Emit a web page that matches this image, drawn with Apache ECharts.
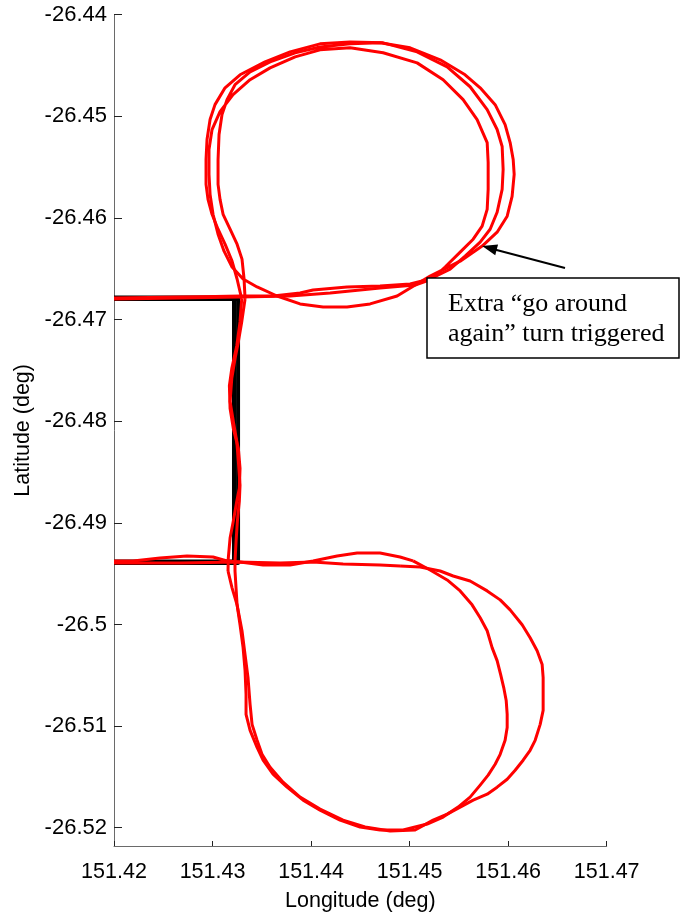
<!DOCTYPE html>
<html>
<head>
<meta charset="utf-8">
<title>Holding pattern track</title>
<script src="https://cdn.jsdelivr.net/npm/echarts@6/dist/echarts.min.js"></script>
<style>
  html, body { margin: 0; padding: 0; background: #ffffff; }
  #chart { width: 681px; height: 917px; }
</style>
</head>
<body>
<div id="chart"></div>
<script>
// Axis ticks (degrees)
const lonTicks = [151.42, 151.43, 151.44, 151.45, 151.46, 151.47];
const latTicks = [-26.52, -26.51, -26.50, -26.49, -26.48, -26.47, -26.46, -26.45, -26.44];
const lonRange = [151.42, 151.47];
const latRange = [-26.5218, -26.44];

// Planned route (black), [lon, lat]
const plannedA = [[151.42000, -26.46782], [151.43218, -26.46782], [151.43218, -26.49380], [151.42000, -26.49380]];
const plannedB = [[151.42000, -26.46797], [151.43259, -26.46797], [151.43259, -26.49395], [151.42000, -26.49395]];

// Flown track, first circuit (red), [lon, lat]
const track1Inbound = [
  [151.42000, -26.46787], [151.42365, -26.46782], [151.42670, -26.46778], [151.43025, -26.46773],
  [151.43279, -26.46768], [151.43614, -26.46768], [151.43888, -26.46738], [151.44020, -26.46709],
  [151.44365, -26.46679], [151.44700, -26.46670], [151.45005, -26.46650], [151.45208, -26.46601]
];
const track1UpperLoop = [
  [151.45208, -26.46601], [151.45411, -26.46503], [151.45563, -26.46375], [151.45716, -26.46238],
  [151.45817, -26.46111], [151.45888, -26.45944], [151.45939, -26.45719], [151.45949, -26.45523],
  [151.45939, -26.45297], [151.45888, -26.45130], [151.45787, -26.44934], [151.45614, -26.44709],
  [151.45381, -26.44513], [151.45076, -26.44366], [151.44731, -26.44277], [151.44396, -26.44268],
  [151.44091, -26.44287], [151.43787, -26.44366], [151.43533, -26.44464], [151.43279, -26.44591],
  [151.43127, -26.44719], [151.43025, -26.44885], [151.42975, -26.45032], [151.42944, -26.45228],
  [151.42934, -26.45425], [151.42934, -26.45670], [151.42954, -26.45817], [151.42995, -26.45964],
  [151.43056, -26.46111], [151.43127, -26.46258], [151.43198, -26.46425], [151.43249, -26.46601],
  [151.43296, -26.46797]
];
const track1Southbound = [
  [151.43296, -26.46797], [151.43279, -26.47023], [151.43246, -26.47258], [151.43195, -26.47483],
  [151.43171, -26.47650], [151.43178, -26.47876], [151.43211, -26.48072], [151.43262, -26.48268],
  [151.43279, -26.48464], [151.43272, -26.48660], [151.43246, -26.48787], [151.43211, -26.48983],
  [151.43178, -26.49150], [151.43160, -26.49346], [151.43157, -26.49474]
];
const track1LowerLoop = [
  [151.43157, -26.49474], [151.43198, -26.49640], [151.43249, -26.49807], [151.43279, -26.50003],
  [151.43310, -26.50228], [151.43330, -26.50454], [151.43340, -26.50689], [151.43340, -26.50885],
  [151.43381, -26.51042], [151.43452, -26.51209], [151.43513, -26.51336], [151.43614, -26.51474],
  [151.43756, -26.51601], [151.43919, -26.51729], [151.44091, -26.51827], [151.44294, -26.51925],
  [151.44497, -26.51993], [151.44700, -26.52023], [151.44934, -26.52023], [151.45178, -26.51964],
  [151.45340, -26.51895], [151.45492, -26.51797], [151.45614, -26.51699], [151.45716, -26.51581],
  [151.45797, -26.51483], [151.45868, -26.51376], [151.45919, -26.51278], [151.45969, -26.51140],
  [151.45990, -26.51013], [151.45990, -26.50885], [151.45980, -26.50748], [151.45955, -26.50621],
  [151.45924, -26.50493], [151.45888, -26.50356], [151.45837, -26.50228], [151.45787, -26.50062],
  [151.45716, -26.49934], [151.45634, -26.49807], [151.45513, -26.49670], [151.45381, -26.49562],
  [151.45208, -26.49464], [151.45035, -26.49375]
];
const track1Outbound = [
  [151.45035, -26.49375], [151.44903, -26.49336], [151.44700, -26.49297], [151.44467, -26.49297],
  [151.44264, -26.49326], [151.44020, -26.49375], [151.43787, -26.49415], [151.43513, -26.49415],
  [151.43279, -26.49385], [151.43147, -26.49375], [151.43005, -26.49336], [151.42741, -26.49326],
  [151.42467, -26.49346], [151.42193, -26.49375], [151.42000, -26.49375]
];

// Flown track, second circuit with the extra turn (red), [lon, lat]
const track2Inbound = [
  [151.42000, -26.46797], [151.42670, -26.46787], [151.43279, -26.46778], [151.43787, -26.46768],
  [151.44193, -26.46738], [151.44700, -26.46689], [151.45056, -26.46660], [151.45228, -26.46601]
];
const track2UpperLoop = [
  [151.45228, -26.46601], [151.45360, -26.46483], [151.45513, -26.46336], [151.45645, -26.46209],
  [151.45736, -26.46081], [151.45787, -26.45915], [151.45797, -26.45719], [151.45797, -26.45454],
  [151.45787, -26.45258], [151.45685, -26.45032], [151.45543, -26.44836], [151.45340, -26.44640],
  [151.45076, -26.44474], [151.44731, -26.44375], [151.44396, -26.44326], [151.44091, -26.44346],
  [151.43838, -26.44415], [151.43584, -26.44523], [151.43381, -26.44640], [151.43208, -26.44787],
  [151.43076, -26.44954], [151.42995, -26.45130], [151.42964, -26.45326], [151.42964, -26.45572],
  [151.42975, -26.45768], [151.43005, -26.45964], [151.43056, -26.46160], [151.43117, -26.46327],
  [151.43198, -26.46483], [151.43310, -26.46601], [151.43452, -26.46679], [151.43655, -26.46768],
  [151.43888, -26.46846], [151.44122, -26.46876], [151.44365, -26.46876], [151.44599, -26.46846],
  [151.44873, -26.46768], [151.45208, -26.46572], [151.45513, -26.46425], [151.45736, -26.46277],
  [151.45888, -26.46140], [151.45990, -26.45983], [151.46040, -26.45787], [151.46061, -26.45572],
  [151.46051, -26.45425], [151.46020, -26.45258], [151.45969, -26.45081], [151.45868, -26.44885],
  [151.45716, -26.44719], [151.45563, -26.44591], [151.45310, -26.44444], [151.45005, -26.44326],
  [151.44700, -26.44277], [151.44396, -26.44287], [151.44091, -26.44317], [151.43838, -26.44375],
  [151.43584, -26.44464], [151.43381, -26.44562], [151.43228, -26.44689], [151.43147, -26.44836],
  [151.43096, -26.44983], [151.43066, -26.45179], [151.43056, -26.45425], [151.43056, -26.45670],
  [151.43076, -26.45817], [151.43107, -26.45964], [151.43178, -26.46111], [151.43249, -26.46258],
  [151.43299, -26.46405], [151.43320, -26.46601], [151.43330, -26.46797]
];
const track2Southbound = [
  [151.43330, -26.46797], [151.43296, -26.47023], [151.43262, -26.47219], [151.43228, -26.47385],
  [151.43195, -26.47581], [151.43178, -26.47807], [151.43211, -26.48003], [151.43246, -26.48199],
  [151.43262, -26.48395], [151.43279, -26.48630], [151.43272, -26.48787], [151.43252, -26.48983],
  [151.43239, -26.49179], [151.43228, -26.49375], [151.43228, -26.49474]
];
const track2LowerLoop = [
  [151.43228, -26.49474], [151.43249, -26.49807], [151.43299, -26.50062], [151.43330, -26.50297],
  [151.43360, -26.50523], [151.43381, -26.50787], [151.43401, -26.50983], [151.43452, -26.51140],
  [151.43502, -26.51278], [151.43584, -26.51405], [151.43716, -26.51552], [151.43888, -26.51699],
  [151.44091, -26.51817], [151.44325, -26.51925], [151.44548, -26.51993], [151.44802, -26.52032],
  [151.45056, -26.52023], [151.45238, -26.51925], [151.45381, -26.51866], [151.45513, -26.51797],
  [151.45645, -26.51729], [151.45787, -26.51670], [151.45888, -26.51601], [151.45990, -26.51523],
  [151.46071, -26.51434], [151.46152, -26.51336], [151.46223, -26.51238], [151.46274, -26.51140],
  [151.46325, -26.50983], [151.46355, -26.50846], [151.46355, -26.50689], [151.46355, -26.50523],
  [151.46345, -26.50395], [151.46294, -26.50258], [151.46223, -26.50130], [151.46142, -26.50003],
  [151.46020, -26.49856], [151.45919, -26.49758], [151.45787, -26.49670], [151.45614, -26.49572],
  [151.45442, -26.49523], [151.45310, -26.49474], [151.45107, -26.49434], [151.44903, -26.49424]
];
const track2Outbound = [
  [151.44903, -26.49424], [151.44700, -26.49415], [151.44325, -26.49405], [151.44020, -26.49385],
  [151.43685, -26.49395], [151.43249, -26.49385], [151.42670, -26.49395], [151.42000, -26.49395]
];

// Point on the extra turn that the callout arrow marks
const extraTurnPoint = [151.45736, -26.46277];
const calloutText = 'Extra \u201cgo around\nagain\u201d turn triggered';

const sansFont = '"Liberation Sans", Arial, Helvetica, sans-serif';
const serifFont = '"Liberation Serif", "Times New Roman", Times, serif';

function trimNumber(v) {
  return String(parseFloat(v.toFixed(4)));
}

function pathSeries(name, data, color, width) {
  return {
    name: name,
    type: 'line',
    data: data,
    showSymbol: false,
    symbol: 'none',
    silent: true,
    animation: false,
    lineStyle: { color: color, width: width, join: 'round', cap: 'butt' }
  };
}

const chart = echarts.init(document.getElementById('chart'), null, { renderer: 'canvas' });

const trackWidth = 3;

chart.setOption({
  backgroundColor: '#ffffff',
  animation: false,
  grid: { left: 114, right: 74.3, top: 14.7, bottom: 67.7, containLabel: false },
  xAxis: {
    type: 'value',
    min: lonRange[0],
    max: lonRange[1],
    name: 'Longitude (deg)',
    nameLocation: 'middle',
    nameGap: 44,
    nameTextStyle: { color: '#000', fontSize: 21.5, fontFamily: sansFont },
    axisLine: { show: true, lineStyle: { color: '#6a6a6a', width: 1 } },
    axisTick: { show: true, inside: true, length: 5, customValues: lonTicks, lineStyle: { color: '#222', width: 1 } },
    axisLabel: {
      show: true, margin: 15, color: '#000', fontSize: 21.5, fontFamily: sansFont,
      customValues: lonTicks, formatter: trimNumber, showMinLabel: true, showMaxLabel: true
    },
    splitLine: { show: false }
  },
  yAxis: {
    type: 'value',
    min: latRange[0],
    max: latRange[1],
    name: 'Latitude (deg)',
    nameLocation: 'middle',
    nameGap: 80,
    nameRotate: 90,
    nameTextStyle: { color: '#000', fontSize: 21.5, fontFamily: sansFont },
    axisLine: { show: true, lineStyle: { color: '#6a6a6a', width: 1 } },
    axisTick: { show: true, inside: true, length: 8, customValues: latTicks, lineStyle: { color: '#222', width: 1 } },
    axisLabel: {
      show: true, margin: 7, color: '#000', fontSize: 22, fontFamily: sansFont,
      customValues: latTicks, formatter: trimNumber, showMinLabel: true, showMaxLabel: true
    },
    splitLine: { show: false }
  },
  series: [
    pathSeries('Planned A', plannedA, '#000000', 4),
    pathSeries('Planned B', plannedB, '#000000', 4),
    pathSeries('Circuit 1 in', track1Inbound, '#ff0000', trackWidth),
    pathSeries('Circuit 1 upper', track1UpperLoop, '#ff0000', trackWidth),
    pathSeries('Circuit 1 south', track1Southbound, '#ff0000', trackWidth),
    pathSeries('Circuit 1 lower', track1LowerLoop, '#ff0000', trackWidth),
    pathSeries('Circuit 1 out', track1Outbound, '#ff0000', trackWidth),
    pathSeries('Circuit 2 in', track2Inbound, '#ff0000', trackWidth),
    pathSeries('Circuit 2 upper', track2UpperLoop, '#ff0000', trackWidth),
    pathSeries('Circuit 2 south', track2Southbound, '#ff0000', trackWidth),
    pathSeries('Circuit 2 lower', track2LowerLoop, '#ff0000', trackWidth),
    pathSeries('Circuit 2 out', track2Outbound, '#ff0000', trackWidth)
  ]
});

// Callout box with an arrow to the extra turn
const box = { x: 427, y: 278, w: 252, h: 80 };
const tail = [box.x + 138, box.y - 10];
const tip = chart.convertToPixel({ xAxisIndex: 0, yAxisIndex: 0 }, extraTurnPoint);
const dx = tip[0] - tail[0], dy = tip[1] - tail[1];
const len = Math.sqrt(dx * dx + dy * dy);
const ux = dx / len, uy = dy / len;
const headLen = 15, headHalf = 5.5;
const baseX = tip[0] - ux * headLen, baseY = tip[1] - uy * headLen;

chart.setOption({
  graphic: [
    {
      type: 'line', silent: true, z: 100,
      shape: { x1: tail[0], y1: tail[1], x2: baseX + ux * 2, y2: baseY + uy * 2 },
      style: { stroke: '#000', lineWidth: 2 }
    },
    {
      type: 'polygon', silent: true, z: 100,
      shape: { points: [
        [tip[0], tip[1]],
        [baseX - uy * headHalf, baseY + ux * headHalf],
        [baseX + uy * headHalf, baseY - ux * headHalf]
      ] },
      style: { fill: '#000' }
    },
    {
      type: 'rect', silent: true, z: 100,
      shape: { x: box.x, y: box.y, width: box.w, height: box.h },
      style: { fill: '#ffffff', stroke: '#000', lineWidth: 1.5 }
    },
    {
      type: 'text', silent: true, z: 101,
      x: box.x + 21, y: box.y + 11,
      style: {
        text: calloutText, fill: '#000', font: '26px ' + serifFont,
        lineHeight: 30, align: 'left', verticalAlign: 'top'
      }
    }
  ]
});
</script>
</body>
</html>
